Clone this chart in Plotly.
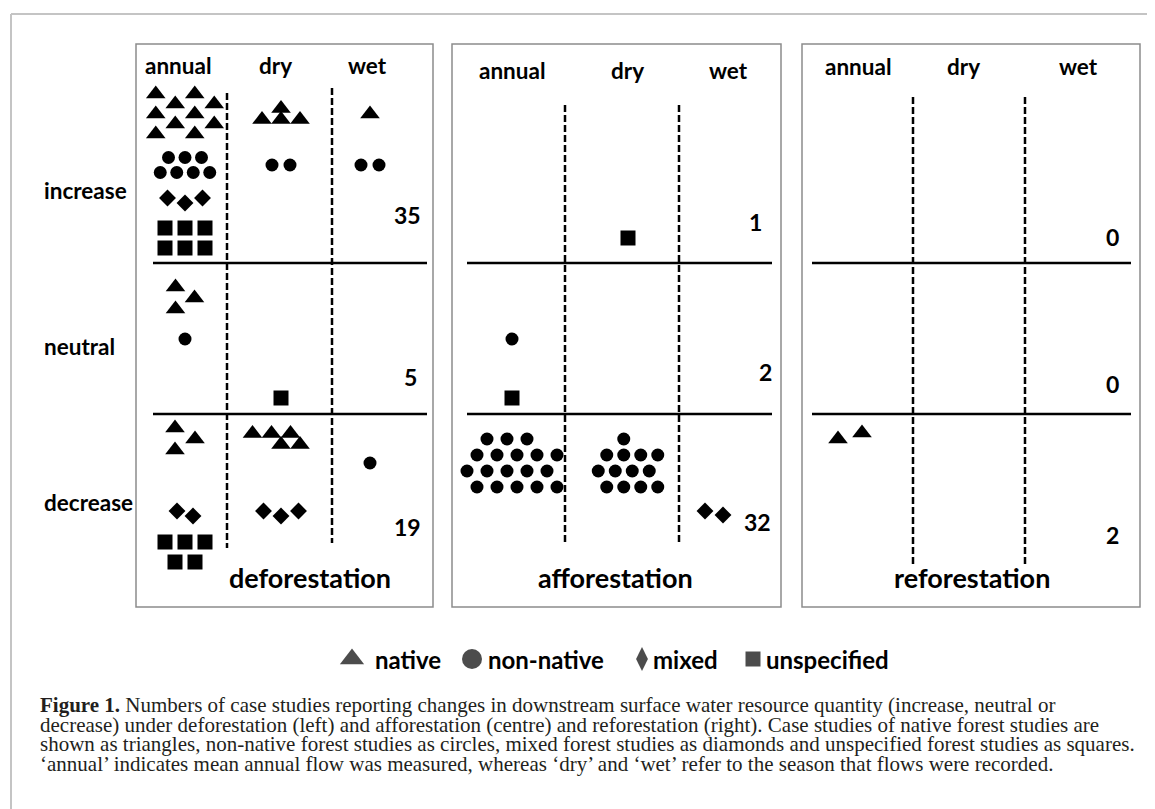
import plotly.graph_objects as go

# ---------------- data (counts of case studies) ----------------
panels = ["deforestation", "afforestation", "reforestation"]
effects = ["increase", "neutral", "decrease"]
seasons = ["annual", "dry", "wet"]
forest_types = ["native", "non-native", "mixed", "unspecified"]

# counts[effect][season]  (effect: increase, neutral, decrease; season: annual, dry, wet)
defor_native = [[10, 4, 1], [3, 0, 0], [3, 5, 0]]
defor_non_native = [[7, 2, 2], [1, 0, 0], [0, 0, 1]]
defor_mixed = [[3, 0, 0], [0, 0, 0], [2, 3, 0]]
defor_unspecified = [[6, 0, 0], [0, 1, 0], [5, 0, 0]]

affor_native = [[0, 0, 0], [0, 0, 0], [0, 0, 0]]
affor_non_native = [[0, 0, 0], [1, 0, 0], [18, 13, 0]]
affor_mixed = [[0, 0, 0], [0, 0, 0], [0, 0, 2]]
affor_unspecified = [[0, 1, 0], [1, 0, 0], [0, 0, 0]]

refor_native = [[0, 0, 0], [0, 0, 0], [2, 0, 0]]
refor_non_native = [[0, 0, 0], [0, 0, 0], [0, 0, 0]]
refor_mixed = [[0, 0, 0], [0, 0, 0], [0, 0, 0]]
refor_unspecified = [[0, 0, 0], [0, 0, 0], [0, 0, 0]]

totals_defor = [35, 5, 19]
totals_affor = [1, 2, 32]
totals_refor = [0, 0, 2]

caption_lines = [
    "<b>Figure 1.</b> Numbers of case studies reporting changes in downstream surface water resource quantity (increase, neutral or",
    "decrease) under deforestation (left) and afforestation (centre) and reforestation (right). Case studies of native forest studies are",
    "shown as triangles, non-native forest studies as circles, mixed forest studies as diamonds and unspecified forest studies as squares.",
    "\u2018annual\u2019 indicates mean annual flow was measured, whereas \u2018dry\u2019 and \u2018wet\u2019 refer to the season that flows were recorded.",
]

counts = {
    "deforestation": [defor_native, defor_non_native, defor_mixed, defor_unspecified],
    "afforestation": [affor_native, affor_non_native, affor_mixed, affor_unspecified],
    "reforestation": [refor_native, refor_non_native, refor_mixed, refor_unspecified],
}
totals = {"deforestation": totals_defor, "afforestation": totals_affor, "reforestation": totals_refor}

# ---------------- layout / style ----------------
W, H = 1155, 809
OFF = 8  # page body margin
FONT = "Lato"
SERIF = "Liberation Serif"
SYMBOLS = ["triangle-up", "circle", "diamond", "square"]
SIZES = [17, 13, 13, 15]

box_x = [(136, 433), (452, 781), (802, 1140)]
box_y = (44, 607)
hline_x = [(153, 427), (467, 772), (812, 1131)]
hline_y = [263, 414]
dash_x = [(227, 332), (565, 679), (913, 1025)]
dash_y = [[(93, 548), (88, 543)], [(105, 545), (105, 543)], [(97, 567), (97, 565)]]
header_x = [(178, 275, 367), (512, 627, 728), (858, 963, 1078)]
header_y = [65, 70, 66]
col_x = [(185, 281, 370), (512, 628, 714), (850, 963, 1070)]
slot_y = [[114, 165, 198, 238], [298, 339, 370, 398], [439, 463, 511, 552]]
number_x = [(407, 410, 407), (755, 765, 757), (1112, 1112, 1112)]
number_y = [(215, 377, 527), (222, 372, 522), (237, 384, 535)]
name_x = [310, 615, 972]
name_y = 577
row_label_y = [190, 346, 502]

default_pack = [
    dict(k=2, dx=39, dy=10, stagger=19.5),
    dict(k=4, dx=16.5, dy=15, rem_first=True),
    dict(k=3, dx=17.5, dy=0, zig=5),
    dict(k=3, dx=20, dy=20),
]
override_pack = {
    (0, 0, 1, 0): dict(k=3, dx=19, dy=11, rem_first=True),
    (0, 1, 0, 0): dict(k=1, dx=0, dy=11, stagger=19),
    (0, 2, 0, 0): dict(k=1, dx=0, dy=11, stagger=20),
    (0, 2, 1, 0): dict(k=3, dx=19, dy=11, stagger=19),
    (2, 2, 0, 0): dict(k=2, dx=24, dy=0, zig=-6),
    (0, 0, 1, 1): dict(k=2, dx=18, dy=0),
    (0, 0, 2, 1): dict(k=2, dx=18, dy=0),
    (1, 2, 0, 1): dict(k=5, dx=20, dy=16, stagger=10, rem_first=True),
    (1, 2, 1, 1): dict(k=4, dx=17, dy=16, stagger=8.5, rem_first=True),
    (0, 2, 0, 2): dict(k=2, dx=16, dy=0, zig=5),
    (1, 2, 2, 2): dict(k=2, dx=18, dy=0, zig=4),
}


def pack(n, cx, cy, k, dx, dy, stagger=0.0, zig=0.0, rem_first=False):
    rows = [k] * (n // k)
    if n % k:
        rows = ([n % k] + rows) if rem_first else (rows + [n % k])
    nr = len(rows)
    xs, ys = [], []
    for i, m in enumerate(rows):
        y = cy + (i - (nr - 1) / 2) * dy
        off = stagger * (0.5 if i % 2 else -0.5) if nr > 1 else 0
        for j in range(m):
            xs.append(cx + (j - (m - 1) / 2) * dx + off)
            ys.append(y + (zig if j % 2 else 0))
    return xs, ys


fig = go.Figure()
shapes = []
annotations = []

# outer light frame
shapes.append(dict(type="line", x0=11, x1=W + 5, y0=14, y1=14, line=dict(color="#c4c4c4", width=2)))
shapes.append(dict(type="line", x0=11, x1=11, y0=14, y1=H + 5, line=dict(color="#c4c4c4", width=2)))

for p, pname in enumerate(panels):
    shapes.append(dict(type="rect", x0=box_x[p][0], x1=box_x[p][1], y0=box_y[0], y1=box_y[1],
                       line=dict(color="#8c8c8c", width=1.5)))
    for hy in hline_y:
        shapes.append(dict(type="line", x0=hline_x[p][0], x1=hline_x[p][1], y0=hy, y1=hy,
                           line=dict(color="black", width=2.5)))
    for d in range(2):
        shapes.append(dict(type="line", x0=dash_x[p][d], x1=dash_x[p][d],
                           y0=dash_y[p][d][0], y1=dash_y[p][d][1],
                           line=dict(color="black", width=2.5, dash="7px,3px")))
    for s, sname in enumerate(seasons):
        annotations.append(dict(x=header_x[p][s], y=header_y[p], text=f"<b>{sname}</b>",
                                showarrow=False, xanchor="center", yanchor="middle",
                                font=dict(family=FONT, size=22.5, color="black")))
    for e in range(3):
        annotations.append(dict(x=number_x[p][e], y=number_y[p][e], text=f"<b>{totals[pname][e]}</b>",
                                showarrow=False, xanchor="center", yanchor="middle",
                                font=dict(family=FONT, size=23, color="black")))
    annotations.append(dict(x=name_x[p], y=name_y, text=f"<b>{pname}</b>", showarrow=False,
                            xanchor="center", yanchor="middle",
                            font=dict(family=FONT, size=27, color="black")))

for e, ename in enumerate(effects):
    annotations.append(dict(x=42, y=row_label_y[e], text=f"<b>{ename}</b>", showarrow=False,
                            xanchor="left", yanchor="middle",
                            font=dict(family=FONT, size=22.5, color="black")))

# markers
for t, tname in enumerate(forest_types):
    xs, ys = [], []
    for p, pname in enumerate(panels):
        grid = counts[pname][t]
        for e in range(3):
            for s in range(3):
                n = grid[e][s]
                if n == 0:
                    continue
                params = override_pack.get((p, e, s, t), default_pack[t])
                gx, gy = pack(n, col_x[p][s], slot_y[e][t], **params)
                xs += gx
                ys += gy
    fig.add_trace(go.Scatter(x=xs, y=ys, mode="markers", name=tname, showlegend=False,
                             hoverinfo="skip",
                             marker=dict(symbol=SYMBOLS[t], size=SIZES[t], color="black",
                                         line=dict(width=0))))

# custom legend
legend_marker_x = [352, 472, 642, 753]
legend_text_x = [373, 486, 651, 764]
legend_symbols = ["triangle-up", "circle", "diamond-tall", "square"]
legend_sizes = [21, 20, 17, 15]
legend_y = 659
fig.add_trace(go.Scatter(x=legend_marker_x, y=[legend_y] * 4, mode="markers", showlegend=False,
                         hoverinfo="skip",
                         marker=dict(symbol=legend_symbols, size=legend_sizes, color="black",
                                     line=dict(width=0))))
for i, tname in enumerate(forest_types):
    annotations.append(dict(x=legend_text_x[i], y=legend_y, text=f"<b>{tname}</b>", showarrow=False,
                            xanchor="left", yanchor="middle",
                            font=dict(family=FONT, size=24, color="black")))

caption_y = [705, 725, 744, 764]
for i, line in enumerate(caption_lines):
    annotations.append(dict(x=38, y=caption_y[i], text=line, showarrow=False,
                            xanchor="left", yanchor="middle",
                            font=dict(family=SERIF, size=21, color="#231f20")))

fig.update_layout(
    width=W - OFF, height=H - OFF,
    margin=dict(l=0, r=0, t=0, b=0),
    paper_bgcolor="white", plot_bgcolor="white",
    xaxis=dict(range=[OFF, W], visible=False, fixedrange=True),
    yaxis=dict(range=[H, OFF], visible=False, fixedrange=True),
    shapes=shapes, annotations=annotations,
    showlegend=False,
)

fig.write_html("out.html")
